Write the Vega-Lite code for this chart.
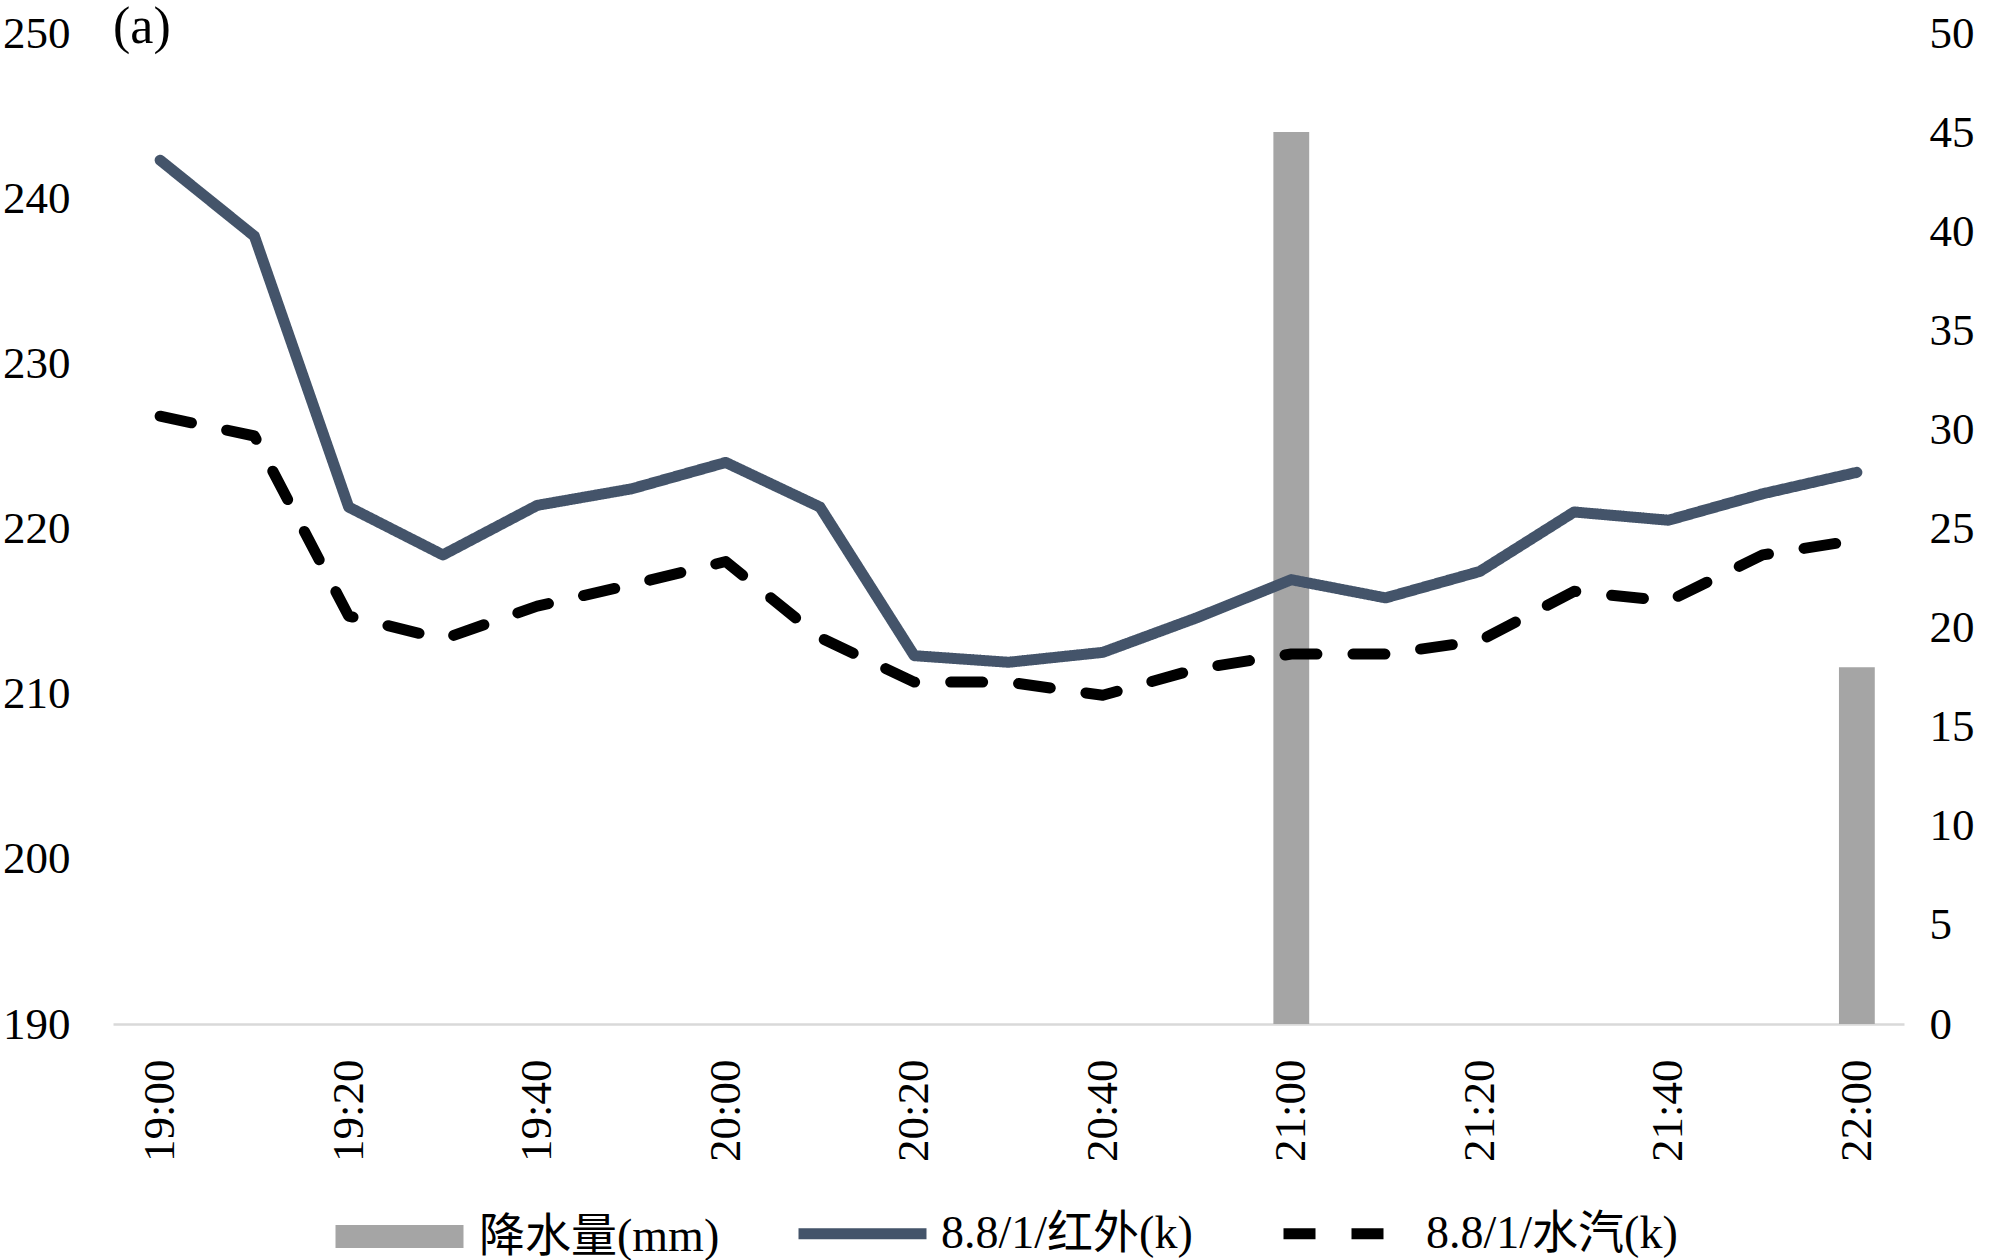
{
  "$schema": "https://vega.github.io/schema/vega-lite/v6.json",
  "width": 1791,
  "height": 991,
  "autosize": {"type": "none"},
  "padding": {"left": 113, "top": 33, "right": 96, "bottom": 236},
  "background": "white",
  "title": {"text": "(a)", "font": "Liberation Serif", "fontSize": 52, "fontWeight": "normal", "color": "black", "anchor": "start", "frame": "group", "offset": -30, "dy": 54, "baseline": "alphabetic"},
  "config": {
    "view": {"stroke": null},
    "axis": {"labelFont": "Liberation Serif", "labelFontSize": 45, "labelColor": "black", "grid": false, "ticks": false, "title": null},
    "legend": {"labelFont": "Liberation Serif, Noto Sans CJK SC", "labelFontSize": 46, "labelColor": "black", "labelLimit": 0}
  },
  "data": {"values": [
    {"t": "19:00", "s": "降水量(mm)", "v": 0},
    {"t": "19:10", "s": "降水量(mm)", "v": 0},
    {"t": "19:20", "s": "降水量(mm)", "v": 0},
    {"t": "19:30", "s": "降水量(mm)", "v": 0},
    {"t": "19:40", "s": "降水量(mm)", "v": 0},
    {"t": "19:50", "s": "降水量(mm)", "v": 0},
    {"t": "20:00", "s": "降水量(mm)", "v": 0},
    {"t": "20:10", "s": "降水量(mm)", "v": 0},
    {"t": "20:20", "s": "降水量(mm)", "v": 0},
    {"t": "20:30", "s": "降水量(mm)", "v": 0},
    {"t": "20:40", "s": "降水量(mm)", "v": 0},
    {"t": "20:50", "s": "降水量(mm)", "v": 0},
    {"t": "21:00", "s": "降水量(mm)", "v": 45},
    {"t": "21:10", "s": "降水量(mm)", "v": 0},
    {"t": "21:20", "s": "降水量(mm)", "v": 0},
    {"t": "21:30", "s": "降水量(mm)", "v": 0},
    {"t": "21:40", "s": "降水量(mm)", "v": 0},
    {"t": "21:50", "s": "降水量(mm)", "v": 0},
    {"t": "22:00", "s": "降水量(mm)", "v": 18},
    {"t": "19:00", "s": "8.8/1/红外(k)", "v": 242.3},
    {"t": "19:10", "s": "8.8/1/红外(k)", "v": 237.7},
    {"t": "19:20", "s": "8.8/1/红外(k)", "v": 221.3},
    {"t": "19:30", "s": "8.8/1/红外(k)", "v": 218.4},
    {"t": "19:40", "s": "8.8/1/红外(k)", "v": 221.4},
    {"t": "19:50", "s": "8.8/1/红外(k)", "v": 222.4},
    {"t": "20:00", "s": "8.8/1/红外(k)", "v": 224.0},
    {"t": "20:10", "s": "8.8/1/红外(k)", "v": 221.3},
    {"t": "20:20", "s": "8.8/1/红外(k)", "v": 212.3},
    {"t": "20:30", "s": "8.8/1/红外(k)", "v": 211.9},
    {"t": "20:40", "s": "8.8/1/红外(k)", "v": 212.5},
    {"t": "20:50", "s": "8.8/1/红外(k)", "v": 214.6},
    {"t": "21:00", "s": "8.8/1/红外(k)", "v": 216.9},
    {"t": "21:10", "s": "8.8/1/红外(k)", "v": 215.8},
    {"t": "21:20", "s": "8.8/1/红外(k)", "v": 217.4},
    {"t": "21:30", "s": "8.8/1/红外(k)", "v": 221.0},
    {"t": "21:40", "s": "8.8/1/红外(k)", "v": 220.5},
    {"t": "21:50", "s": "8.8/1/红外(k)", "v": 222.1},
    {"t": "22:00", "s": "8.8/1/红外(k)", "v": 223.4},
    {"t": "19:00", "s": "8.8/1/水汽(k)", "v": 226.8},
    {"t": "19:10", "s": "8.8/1/水汽(k)", "v": 225.6},
    {"t": "19:20", "s": "8.8/1/水汽(k)", "v": 214.7},
    {"t": "19:30", "s": "8.8/1/水汽(k)", "v": 213.3},
    {"t": "19:40", "s": "8.8/1/水汽(k)", "v": 215.3},
    {"t": "19:50", "s": "8.8/1/水汽(k)", "v": 216.6},
    {"t": "20:00", "s": "8.8/1/水汽(k)", "v": 218.0},
    {"t": "20:10", "s": "8.8/1/水汽(k)", "v": 213.4},
    {"t": "20:20", "s": "8.8/1/水汽(k)", "v": 210.7},
    {"t": "20:30", "s": "8.8/1/水汽(k)", "v": 210.7},
    {"t": "20:40", "s": "8.8/1/水汽(k)", "v": 209.9},
    {"t": "20:50", "s": "8.8/1/水汽(k)", "v": 211.5},
    {"t": "21:00", "s": "8.8/1/水汽(k)", "v": 212.4},
    {"t": "21:10", "s": "8.8/1/水汽(k)", "v": 212.4},
    {"t": "21:20", "s": "8.8/1/水汽(k)", "v": 213.2},
    {"t": "21:30", "s": "8.8/1/水汽(k)", "v": 216.2},
    {"t": "21:40", "s": "8.8/1/水汽(k)", "v": 215.6},
    {"t": "21:50", "s": "8.8/1/水汽(k)", "v": 218.4},
    {"t": "22:00", "s": "8.8/1/水汽(k)", "v": 219.3}
  ]},
  "encoding": {
    "x": {
      "field": "t", "type": "ordinal",
      "scale": {"domain": ["19:00","19:10","19:20","19:30","19:40","19:50","20:00","20:10","20:20","20:30","20:40","20:50","21:00","21:10","21:20","21:30","21:40","21:50","22:00"], "paddingInner": 0, "paddingOuter": 0},
      "axis": {"values": ["19:00","19:20","19:40","20:00","20:20","20:40","21:00","21:20","21:40","22:00"], "labelAngle": 270, "labelPadding": 35, "domain": true, "domainColor": "#D9D9D9", "domainWidth": 2.5, "labelFontSize": 45}
    }
  },
  "layer": [
    {
      "transform": [{"filter": "datum.s === '降水量(mm)'"}],
      "mark": {"type": "bar", "width": {"band": 0.38}, "strokeWidth": 0},
      "encoding": {
        "y": {"field": "v", "type": "quantitative", "scale": {"domain": [0, 50], "nice": false}, "axis": {"orient": "right", "values": [0,5,10,15,20,25,30,35,40,45,50], "domain": false, "labelPadding": 25}},
        "color": {
          "field": "s", "type": "nominal",
          "scale": {"domain": ["降水量(mm)"], "range": ["#A5A5A5"]},
          "legend": {"title": null, "orient": "none", "legendX": 211, "legendY": 1128, "direction": "horizontal", "symbolType": "stroke", "symbolSize": 16384, "symbolStrokeWidth": 23, "symbolStrokeColor": "#A5A5A5", "labelOffset": 4, "padding": 0, "labelLimit": 0,
            "encode": {"symbols": {"update": {"strokeCap": {"value": "butt"}, "stroke": {"value": "#A5A5A5"}}}}}
        }
      }
    },
    {
      "transform": [{"filter": "datum.s !== '降水量(mm)'"}],
      "mark": {"type": "line", "strokeWidth": 11, "strokeCap": "round", "strokeJoin": "round"},
      "encoding": {
        "y": {"field": "v", "type": "quantitative", "scale": {"domain": [190, 250], "nice": false, "zero": false}, "axis": {"orient": "left", "values": [190,200,210,220,230,240,250], "domain": false, "labelPadding": 43}},
        "color": {
          "field": "s", "type": "nominal",
          "scale": {"domain": ["8.8/1/红外(k)", "8.8/1/水汽(k)"], "range": ["#44546A", "#000000"]},
          "legend": {"title": null, "orient": "none", "legendX": 680, "legendY": 1131, "direction": "horizontal", "columns": 2, "symbolType": "stroke", "symbolSize": 16384, "symbolStrokeWidth": 11, "labelOffset": 9, "columnPadding": 68, "padding": 0, "labelLimit": 0,
            "encode": {"symbols": {"update": {"strokeCap": {"value": "butt"}}}}}
        },
        "strokeDash": {
          "field": "s", "type": "nominal",
          "scale": {"domain": ["8.8/1/红外(k)", "8.8/1/水汽(k)"], "range": [[1, 0], [32, 36]]},
          "legend": {"title": null, "orient": "none", "legendX": 680, "legendY": 1131, "direction": "horizontal", "columns": 2, "symbolType": "stroke", "symbolSize": 16384, "symbolStrokeWidth": 11, "labelOffset": 9, "columnPadding": 68, "padding": 0, "labelLimit": 0,
            "encode": {"symbols": {"update": {"strokeCap": {"value": "butt"}}}}}
        }
      }
    }
  ],
  "resolve": {"scale": {"y": "independent", "color": "independent", "strokeDash": "independent"}}
}
